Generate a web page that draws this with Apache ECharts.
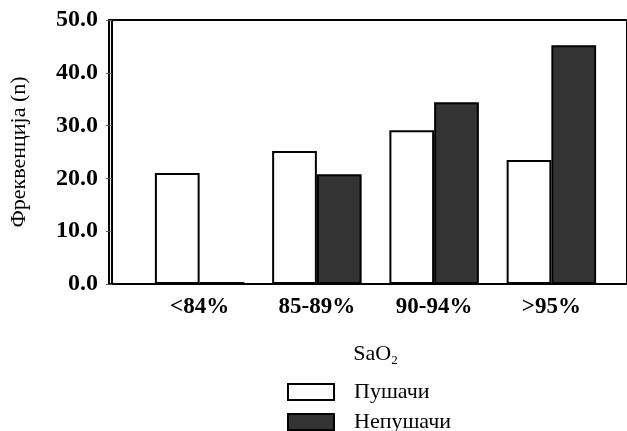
<!DOCTYPE html>
<html><head><meta charset="utf-8">
<script src="https://cdn.jsdelivr.net/npm/echarts@6/dist/echarts.min.js"></script>
<style>html,body{margin:0;padding:0;background:#fff}#c{width:627px;height:431px}</style>
</head><body><div id="c"></div>
<script>
const categories = ['<84%', '85-89%', '90-94%', '>95%'];
const smokers = [21.0, 25.2, 29.1, 23.5];
const nonSmokers = [0.4, 20.8, 34.4, 45.2];
const seriesNames = ['Пушачи', 'Непушачи'];
const yTicks = { min: 0, max: 50, interval: 10 };
const yTitle = 'Фреквенција (n)';

const serif = '"Liberation Serif", "Times New Roman", serif';
const chart = echarts.init(document.getElementById('c'), null, { renderer: 'canvas' });
chart.setOption({
  animation: false,
  backgroundColor: '#fff',
  grid: [
    { left: 138, width: 472, top: 20, bottom: 147, containLabel: false },
    { left: 109, right: -20, top: 20, bottom: 147, show: true, borderColor: '#000', borderWidth: 2, backgroundColor: 'transparent' }
  ],
  legend: {
    orient: 'vertical', left: 287, top: 381, padding: 0, itemWidth: 46, itemHeight: 16, itemGap: 8,
    height: 60,
    icon: 'rect',
    textStyle: { fontFamily: serif, fontSize: 22, lineHeight: 16, color: '#000', padding: [0, 0, 0, 15] },
    data: seriesNames
  },
  xAxis: [
    {
      type: 'category', gridIndex: 0, data: categories,
      axisLine: { show: false }, axisTick: { show: false },
      axisLabel: { fontFamily: serif, fontWeight: 'bold', fontSize: 23, color: '#000', margin: 12 },
      name: '{a|SaO}{s|2}', nameLocation: 'middle', nameGap: 58,
      nameTextStyle: {
        rich: {
          a: { fontFamily: serif, fontSize: 22, color: '#000' },
          s: { fontFamily: serif, fontSize: 13, color: '#000', padding: [12, 0, 0, 0] }
        }
      }
    },
    { type: 'value', gridIndex: 1, show: false }
  ],
  yAxis: [
    {
      type: 'value', gridIndex: 0, min: yTicks.min, max: yTicks.max, interval: yTicks.interval,
      offset: 29,
      axisLine: { show: true, lineStyle: { color: '#000', width: 2 } },
      axisTick: { show: true, length: 6, lineStyle: { color: '#555', width: 1 } },
      splitLine: { show: false },
      axisLabel: { fontFamily: serif, fontWeight: 'bold', fontSize: 24, color: '#000', margin: 14,
        formatter: v => v.toFixed(1) },
      name: yTitle, nameLocation: 'middle', nameGap: 82,
      nameTextStyle: { fontFamily: serif, fontSize: 22, color: '#000' }
    },
    { type: 'value', gridIndex: 1, show: false }
  ],
  series: [
    { name: seriesNames[0], type: 'bar', xAxisIndex: 0, yAxisIndex: 0, data: smokers,
      barGap: '0%', barCategoryGap: '23.7%',
      itemStyle: { color: '#fff', borderColor: '#000', borderWidth: 2 } },
    { name: seriesNames[1], type: 'bar', xAxisIndex: 0, yAxisIndex: 0, data: nonSmokers,
      barGap: '0%', barCategoryGap: '23.7%',
      itemStyle: { color: '#333333', borderColor: '#000', borderWidth: 2 } }
  ]
});
</script></body></html>
